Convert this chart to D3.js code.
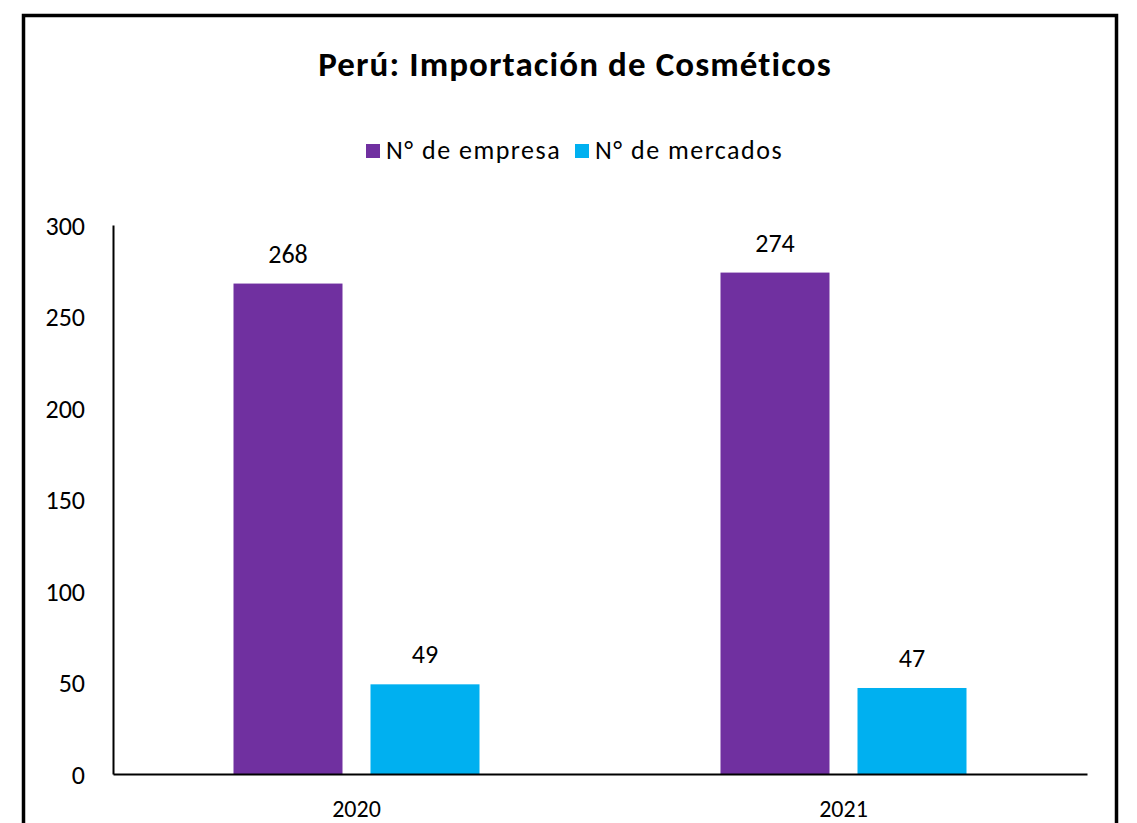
<!DOCTYPE html>
<html>
<head>
<meta charset="utf-8">
<script src="https://cdn.jsdelivr.net/npm/d3@7"></script>
<style>
  body { margin: 0; background: #fff; }
  text { font-family: Carlito, Lato, "Open Sans", sans-serif; fill: #000; }
</style>
</head>
<body>
<svg id="chart" width="1137" height="823"></svg>
<script>
// chart data
var years = ["2020", "2021"];
var seriesNames = ["N° de empresa", "N° de mercados"];
var empresas = [268, 274];
var mercados = [49, 47];
var yTicks = [0, 50, 100, 150, 200, 250, 300];
var colors = ["#7030A0", "#00B0F0"];

var svg = d3.select("#chart");

// outer frame
svg.append("rect")
    .attr("x", 23.5).attr("y", 15.5)
    .attr("width", 1093).attr("height", 850)
    .attr("fill", "none")
    .attr("stroke", "#000")
    .attr("stroke-width", 3.5);

svg.append("text")
    .attr("x", 575).attr("y", 76)
    .attr("text-anchor", "middle")
    .style("font-size", "35px")
    .style("font-weight", "bold")
    .style("letter-spacing", "1.1px")
    .text("Perú: Importación de Cosméticos");

// legend
var legendX = [366, 575];
seriesNames.forEach(function(name, i) {
    svg.append("rect")
        .attr("x", legendX[i]).attr("y", 144)
        .attr("width", 14).attr("height", 14)
        .attr("fill", colors[i]);
    svg.append("text")
        .attr("x", legendX[i] + 20).attr("y", 159)
        .style("font-size", "26px")
        .style("letter-spacing", "1.5px")
        .text(name);
});

var plotLeft = 113, plotRight = 1087, plotTop = 225, plotBottom = 774;

var x = d3.scaleBand().domain(years).range([plotLeft, plotRight]);
var y = d3.scaleLinear().domain([0, 300]).range([plotBottom, plotTop]);

var data = years.map(function(yr, i) {
    return { year: yr, values: [empresas[i], mercados[i]] };
});

var barW = 109, gap = 28;

var groups = svg.append("g").selectAll("g")
    .data(data)
    .enter().append("g")
    .attr("transform", function(d) { return "translate(" + (x(d.year) + x.bandwidth() / 2) + ",0)"; });

groups.selectAll("rect")
    .data(function(d) { return d.values; })
    .enter().append("rect")
    .attr("x", function(d, i) { return i == 0 ? -barW - gap / 2 : gap / 2; })
    .attr("y", function(d) { return y(d); })
    .attr("width", barW)
    .attr("height", function(d) { return plotBottom - y(d); })
    .attr("fill", function(d, i) { return colors[i]; });

groups.selectAll("text")
    .data(function(d) { return d.values; })
    .enter().append("text")
    .attr("x", function(d, i) { return i == 0 ? -barW / 2 - gap / 2 : gap / 2 + barW / 2; })
    .attr("y", function(d) { return y(d) - 21; })
    .attr("text-anchor", "middle")
    .style("font-size", "26px")
    .text(function(d) { return d; });

// y axis
var yAxis = svg.append("g")
    .attr("transform", "translate(" + plotLeft + ",0)")
    .call(d3.axisLeft(y).tickValues(yTicks).tickSize(0).tickPadding(28));
yAxis.select(".domain").attr("stroke", "#000").attr("stroke-width", 2);
yAxis.selectAll("text").style("font-size", "26px").attr("dy", "0.35em");

// x axis
var xAxis = svg.append("g")
    .attr("transform", "translate(0," + plotBottom + ")")
    .call(d3.axisBottom(x).tickSize(0).tickPadding(26));
xAxis.select(".domain").attr("stroke", "#000").attr("stroke-width", 2);
xAxis.selectAll("text").style("font-size", "24px");
</script>
</body>
</html>
